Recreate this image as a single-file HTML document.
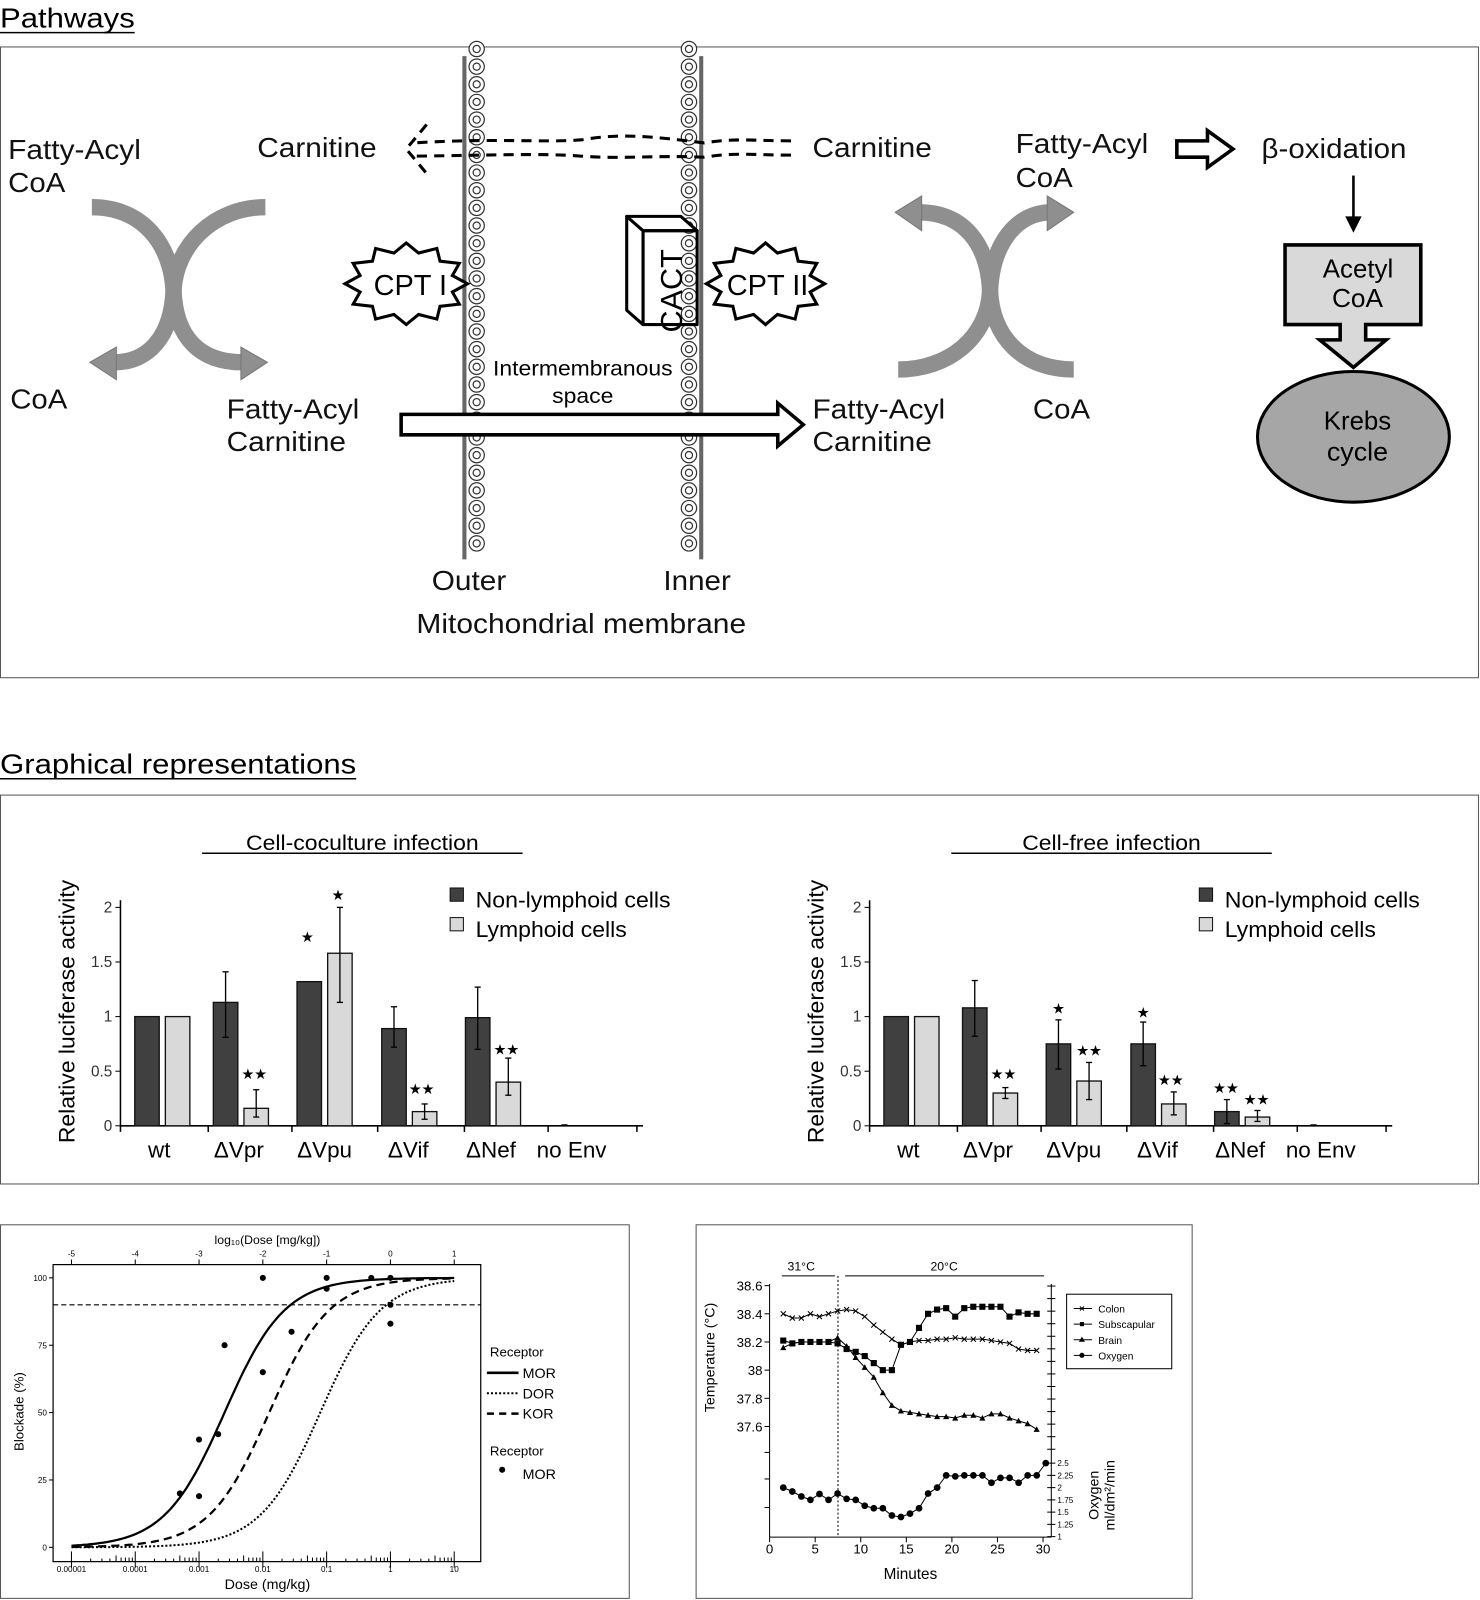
<!DOCTYPE html>
<html><head><meta charset="utf-8"><style>
html,body{margin:0;padding:0;background:#fff}
svg{display:block}
text{font-family:"Liberation Sans",Arial,sans-serif}
</style></head><body>
<svg id="s" width="1480" height="1600" viewBox="0 0 1450 1567.6" xmlns="http://www.w3.org/2000/svg">
<rect width="1450" height="1568" fill="#fff"/>
<text x="0" y="27" font-size="27" textLength="132" lengthAdjust="spacingAndGlyphs">Pathways</text>
<line x1="0" y1="32" x2="132" y2="32" stroke="#000" stroke-width="1.5"/>
<rect x="0.5" y="46" width="1448" height="618" fill="none" stroke="#555" stroke-width="1"/>
<g id="mem"></g>
<line x1="455" y1="55" x2="455" y2="548" stroke="#666" stroke-width="4"/>
<line x1="687" y1="55" x2="687" y2="548" stroke="#666" stroke-width="4"/>
<g font-size="27" fill="#111" lengthAdjust="spacingAndGlyphs">
<text x="8" y="156" textLength="130" lengthAdjust="spacingAndGlyphs">Fatty-Acyl</text><text x="8" y="188" textLength="56" lengthAdjust="spacingAndGlyphs">CoA</text>
<text x="252" y="154" textLength="117" lengthAdjust="spacingAndGlyphs">Carnitine</text>
<text x="10" y="400" textLength="56" lengthAdjust="spacingAndGlyphs">CoA</text>
<text x="222" y="410" textLength="130" lengthAdjust="spacingAndGlyphs">Fatty-Acyl</text><text x="222" y="442" textLength="117" lengthAdjust="spacingAndGlyphs">Carnitine</text>
<text x="796" y="154" textLength="117" lengthAdjust="spacingAndGlyphs">Carnitine</text>
<text x="995" y="150" textLength="130" lengthAdjust="spacingAndGlyphs">Fatty-Acyl</text><text x="995" y="183" textLength="56" lengthAdjust="spacingAndGlyphs">CoA</text>
<text x="1236" y="155" textLength="142" lengthAdjust="spacingAndGlyphs">β-oxidation</text>
<text x="796" y="410" textLength="130" lengthAdjust="spacingAndGlyphs">Fatty-Acyl</text><text x="796" y="442" textLength="117" lengthAdjust="spacingAndGlyphs">Carnitine</text>
<text x="1012" y="410" textLength="56" lengthAdjust="spacingAndGlyphs">CoA</text>
<text x="423" y="578" textLength="73" lengthAdjust="spacingAndGlyphs">Outer</text><text x="650" y="578" textLength="66" lengthAdjust="spacingAndGlyphs">Inner</text>
<text x="408" y="620" textLength="323" lengthAdjust="spacingAndGlyphs">Mitochondrial membrane</text>
</g>
<g font-size="21"><text x="483" y="368" textLength="176" lengthAdjust="spacingAndGlyphs">Intermembranous</text><text x="541" y="395" textLength="60" lengthAdjust="spacingAndGlyphs">space</text></g>
<g fill="none" stroke="#8f8f8f" stroke-width="16">
<path d="M90,203 C140,203 168,240 170,285 C172,330 195,355 238,355"/>
<path d="M260,203 C210,203 172,240 170,285 C168,330 145,355 112,355"/>
<path d="M880,362 C930,362 968,330 970,285 C972,240 995,208 1030,208"/>
<path d="M1052,362 C1002,362 972,330 970,285 C968,240 945,208 900,208"/>
</g>
<g fill="#8f8f8f" stroke="#777" stroke-width="1">
<polygon points="236,340 262,355 236,372"/>
<polygon points="114,340 88,355 114,372"/>
<polygon points="1026,192 1052,208 1026,226"/>
<polygon points="903,192 877,208 903,226"/>
</g>
<g id="stars" fill="#fff" stroke="#000" stroke-width="3"></g>
<g font-size="28"><text x="366" y="289" textLength="72" lengthAdjust="spacingAndGlyphs">CPT I</text><text x="712" y="289" textLength="80" lengthAdjust="spacingAndGlyphs">CPT II</text></g>
<g fill="#fff" stroke="#000" stroke-width="3" stroke-linejoin="round">
<polygon points="614,212 630,226 630,318 614,304"/>
<polygon points="614,212 667,212 683,226 630,226"/>
<rect x="630" y="226" width="53" height="92" fill="none"/>
</g>
<text x="0" y="0" font-size="30" transform="translate(668,285) rotate(-90)" text-anchor="middle">CACT</text>
<g fill="none" stroke="#000" stroke-width="3" stroke-dasharray="10,7">
<path d="M775,138 C740,138 720,135 690,140 C640,134 610,130 570,137 C530,140 490,135 405,140"/>
<path d="M775,152 C740,152 720,149 690,154 C640,152 610,156 570,153 C530,150 490,152 405,153"/>
<path d="M418,122 L398,146 L418,170"/>
</g>
<polygon points="393,406 762,406 762,395 787,416 762,437 762,426 393,426" fill="#fff" stroke="#000" stroke-width="3.5"/>
<polygon points="1153,138 1183,138 1183,128 1208,146 1183,164 1183,154 1153,154" fill="#fff" stroke="#000" stroke-width="3.5"/>
<line x1="1326" y1="172" x2="1326" y2="215" stroke="#000" stroke-width="2.5"/>
<polygon points="1318,212 1334,212 1326,228" fill="#000"/>
<polygon points="1259,240 1392,240 1392,318 1338,318 1338,333 1358,333 1326,360 1293,333 1313,333 1313,318 1259,318" fill="#d9d9d9" stroke="#000" stroke-width="3.5"/>
<g font-size="25"><text x="1296" y="272" textLength="69" lengthAdjust="spacingAndGlyphs">Acetyl</text><text x="1305" y="301" textLength="50" lengthAdjust="spacingAndGlyphs">CoA</text></g>
<ellipse cx="1326" cy="428" rx="94" ry="64" fill="#a6a6a6" stroke="#000" stroke-width="3"/>
<g font-size="25"><text x="1297" y="421" textLength="66" lengthAdjust="spacingAndGlyphs">Krebs</text><text x="1300" y="451" textLength="60" lengthAdjust="spacingAndGlyphs">cycle</text></g>

<text x="0" y="758" font-size="27" textLength="349" lengthAdjust="spacingAndGlyphs">Graphical representations</text>
<line x1="0" y1="763" x2="349" y2="763" stroke="#000" stroke-width="1.5"/>
<rect x="0.5" y="779" width="1448" height="381" fill="none" stroke="#555" stroke-width="1"/>
<g id="bars"></g>

<rect x="0.5" y="1200" width="616" height="366" fill="none" stroke="#555" stroke-width="1"/>
<g id="dose"></g>
<rect x="682" y="1200" width="486" height="366" fill="none" stroke="#555" stroke-width="1"/>
<g id="temp"></g>
</svg>
<script>
var NS="http://www.w3.org/2000/svg";
function el(p,t,a,txt){var e=document.createElementNS(NS,t);for(var k in a)e.setAttribute(k,a[k]);if(txt!=null)e.textContent=txt;document.getElementById(p).appendChild(e);return e;}
for(var y=48;y<=545;y+=17.3){[467,675].forEach(function(x){el("mem","circle",{cx:x,cy:y,r:7.5,fill:"#fff",stroke:"#333","stroke-width":1.2});el("mem","circle",{cx:x,cy:y,r:3.5,fill:"none",stroke:"#333","stroke-width":1.2});});}
function star(cx,cy,rx,ry,n){var p=[];for(var i=0;i<2*n;i++){var a=Math.PI*i/n;var f=i%2?0.78:1;p.push((cx+rx*f*Math.cos(a)).toFixed(1)+","+(cy+ry*f*Math.sin(a)).toFixed(1));}el("stars","polygon",{points:p.join(" ")});}
star(398,278,60,40,12);star(750,278,58,40,12);
function chart(ox,title,data,stars,tw){
 var y0=1103,u=107,ax=118+ox;
 el("bars","text",{x:355+ox,y:833,"font-size":21,"text-anchor":"middle",textLength:tw,lengthAdjust:"spacingAndGlyphs"},title);
 el("bars","line",{x1:198+ox,y1:836,x2:512+ox,y2:836,stroke:"#000","stroke-width":1.5});
 el("bars","line",{x1:ax,y1:882,x2:ax,y2:y0+6,stroke:"#000","stroke-width":1.5});
 el("bars","line",{x1:ax,y1:y0,x2:630+ox,y2:y0,stroke:"#000","stroke-width":1.5});
 [0,0.5,1,1.5,2].forEach(function(v){var yy=y0-v*u;el("bars","line",{x1:ax-5,y1:yy,x2:ax,y2:yy,stroke:"#000"});el("bars","text",{x:ax-8,y:yy+5,"font-size":15,"text-anchor":"end",fill:"#333"},String(v));});
 [204,286,370,455,537,624].forEach(function(x){el("bars","line",{x1:x+ox,y1:y0,x2:x+ox,y2:y0+6,stroke:"#000","stroke-width":1.5});});
 var labs=["wt","ΔVpr","ΔVpu","ΔVif","ΔNef","no Env"],lx=[156,234,318,400,481,560];
 labs.forEach(function(l,i){el("bars","text",{x:lx[i]+ox,y:1134,"font-size":22,"text-anchor":"middle"},l);});
 el("bars","text",{x:0,y:0,"font-size":22,"text-anchor":"middle",textLength:258,lengthAdjust:"spacingAndGlyphs",transform:"translate("+(73+ox)+",991) rotate(-90)"},"Relative luciferase activity");
 var gx=[132,209,291,374,456,540];
 data.forEach(function(d,i){[0,1].forEach(function(j){var v=d[j*3];if(i==5){return;}var x=gx[i]+ox+j*30;
  el("bars","rect",{x:x,y:y0-v*u,width:24,height:v*u,fill:j?"#d9d9d9":"#404040",stroke:"#111","stroke-width":1.3});
  if(d[j*3+1]!=null){var cx=x+12;el("bars","line",{x1:cx,y1:y0-d[j*3+1]*u,x2:cx,y2:y0-d[j*3+2]*u,stroke:"#000","stroke-width":1.3});
   [d[j*3+1],d[j*3+2]].forEach(function(q){el("bars","line",{x1:cx-3,y1:y0-q*u,x2:cx+3,y2:y0-q*u,stroke:"#000","stroke-width":1.3});});}
 });});
 el("bars","line",{x1:gx[5]+ox+10,y1:y0-1,x2:gx[5]+ox+16,y2:y0-1,stroke:"#000"});
 stars.forEach(function(s){el("bars","text",{x:s[0]+ox,y:s[1],"font-size":14,"text-anchor":"middle"},s[2]);});
 el("bars","rect",{x:441+ox,y:870,width:13,height:13,fill:"#404040",stroke:"#111"});
 el("bars","rect",{x:441+ox,y:899,width:13,height:13,fill:"#d9d9d9",stroke:"#111"});
 el("bars","text",{x:466+ox,y:889,"font-size":22,textLength:191,lengthAdjust:"spacingAndGlyphs"},"Non-lymphoid cells");
 el("bars","text",{x:466+ox,y:918,"font-size":22,textLength:148,lengthAdjust:"spacingAndGlyphs"},"Lymphoid cells");
}
chart(0,"Cell-coculture infection",[[1,null,null,1,null,null],[1.13,0.81,1.41,0.16,0.08,0.33],[1.32,null,null,1.58,1.13,2.0],[0.89,0.72,1.09,0.13,0.06,0.2],[0.99,0.7,1.27,0.4,0.28,0.62],[0,null,null,0,null,null]],
 [[301,923,"★"],[331,882,"★"],[249,1057,"★★"],[413,1072,"★★"],[496,1033,"★★"]],228);
chart(734,"Cell-free infection",[[1,null,null,1,null,null],[1.08,0.82,1.33,0.3,0.25,0.35],[0.75,0.52,0.97,0.41,0.24,0.58],[0.75,0.55,0.95,0.2,0.1,0.31],[0.13,0.02,0.24,0.08,0.04,0.14],[0,null,null,0,null,null]],
 [[249,1057,"★★"],[303,993,"★"],[333,1034,"★★"],[386,997,"★"],[413,1063,"★★"],[467,1071,"★★"],[497,1082,"★★"]],175);
(function(){var g="dose",X=function(l){return 70+(l+5)*62.5},Y=function(v){return 1516-v*2.64};
 el(g,"rect",{x:52,y:1239,width:419,height:291,fill:"none",stroke:"#000","stroke-width":1.2});
 el(g,"text",{x:262,y:1219,"font-size":12,"text-anchor":"middle"},"log₁₀(Dose [mg/kg])");
 for(var l=-5;l<=1;l++){el(g,"line",{x1:X(l),y1:1234,x2:X(l),y2:1239,stroke:"#000"});el(g,"text",{x:X(l),y:1231,"font-size":8,"text-anchor":"middle"},String(l));
  el(g,"line",{x1:X(l),y1:1520,x2:X(l),y2:1536,stroke:"#000"});
  el(g,"text",{x:X(l),y:1540,"font-size":8,"text-anchor":"middle"},["0.00001","0.0001","0.001","0.01","0.1","1","10"][l+5]);
  if(l<1)for(var k=2;k<10;k++){var xx=X(l+Math.log10(k));el(g,"line",{x1:xx,y1:1530-(k==5?6:(k>5?4:3)),x2:xx,y2:1530,stroke:"#000"});}}
 el(g,"text",{x:262,y:1557,"font-size":14,"text-anchor":"middle"},"Dose (mg/kg)");
 [0,25,50,75,100].forEach(function(v){el(g,"line",{x1:48,y1:Y(v),x2:52,y2:Y(v),stroke:"#000"});el(g,"text",{x:46,y:Y(v)+3,"font-size":8,"text-anchor":"end"},String(v));});
 el(g,"text",{x:0,y:0,"font-size":13,"text-anchor":"middle",transform:"translate(23,1383) rotate(-90)"},"Blockade (%)");
 el(g,"line",{x1:52,y1:Y(90),x2:471,y2:Y(90),stroke:"#000","stroke-dasharray":"5,3"});
 function curve(ec,da,w){var p="";for(var l=-5;l<=1.001;l+=0.05){var v=100/(1+Math.pow(10,0.92*(ec-l)));p+=(p?"L":"M")+X(l).toFixed(1)+","+Y(v).toFixed(1);}el(g,"path",{d:p,fill:"none",stroke:"#000","stroke-width":w,"stroke-dasharray":da});}
 curve(-2.6,"none",2.2);curve(-1.9,"8,5",2.2);curve(-1.1,"2,2",2);
 [[-3.3,20],[-3,19],[-3,40],[-2.7,42],[-2.6,75],[-2,65],[-2,100],[-1.55,80],[-1,100],[-1,96],[-0.3,100],[0,100],[0,90],[0,83]].forEach(function(p){el(g,"circle",{cx:X(p[0]),cy:Y(p[1]),r:3,fill:"#000"});});
 el(g,"text",{x:480,y:1329,"font-size":13},"Receptor");
 el(g,"line",{x1:477,y1:1345,x2:508,y2:1345,stroke:"#000","stroke-width":2.5});
 el(g,"line",{x1:477,y1:1365,x2:508,y2:1365,stroke:"#000","stroke-width":2,"stroke-dasharray":"2,2"});
 el(g,"line",{x1:477,y1:1385,x2:508,y2:1385,stroke:"#000","stroke-width":2.5,"stroke-dasharray":"7,5"});
 el(g,"text",{x:512,y:1350,"font-size":14},"MOR");el(g,"text",{x:512,y:1370,"font-size":14},"DOR");el(g,"text",{x:512,y:1390,"font-size":14},"KOR");
 el(g,"text",{x:480,y:1426,"font-size":13},"Receptor");
 el(g,"circle",{cx:492,cy:1440,r:3,fill:"#000"});el(g,"text",{x:512,y:1449,"font-size":14},"MOR");
})();
(function(){var g="temp",X=function(m){return 754+m*8.93},T=function(v){return 1259.6+(38.6-v)/0.2*27.6},O=function(v){return 1505.5-(v-1)/0.25*12};
 el(g,"line",{x1:754,y1:1258,x2:754,y2:1506,stroke:"#000"});
 el(g,"line",{x1:754,y1:1506,x2:1030,y2:1506,stroke:"#000"});
 el(g,"line",{x1:1030,y1:1258,x2:1030,y2:1506,stroke:"#000"});
 [38.6,38.4,38.2,38,37.8,37.6].forEach(function(v){el(g,"line",{x1:749,y1:T(v),x2:754,y2:T(v),stroke:"#000"});el(g,"text",{x:747,y:T(v)+5,"font-size":13,"text-anchor":"end"},String(v));});
 [1423,1449,1477].forEach(function(y){el(g,"line",{x1:749,y1:y,x2:754,y2:y,stroke:"#000"});});
 for(var y=1260;y<1430;y+=12.3)el(g,"line",{x1:1026,y1:y,x2:1034,y2:y,stroke:"#000"});
 ["2.5","2.25","2","1.75","1.5","1.25","1"].forEach(function(s,i){var y=O(2.5-i*0.25);el(g,"line",{x1:1026,y1:y,x2:1034,y2:y,stroke:"#000"});el(g,"text",{x:1036,y:y+3,"font-size":8},s);});
 [0,5,10,15,20,25,30].forEach(function(m){el(g,"line",{x1:X(m),y1:1506,x2:X(m),y2:1511,stroke:"#000"});el(g,"text",{x:X(m),y:1522,"font-size":13,"text-anchor":"middle"},String(m));});
 el(g,"text",{x:892,y:1547,"font-size":15,"text-anchor":"middle"},"Minutes");
 el(g,"text",{x:0,y:0,"font-size":14,"text-anchor":"middle",transform:"translate(700,1330) rotate(-90)"},"Temperature (°C)");
 el(g,"text",{x:0,y:0,"font-size":14,"text-anchor":"middle",transform:"translate(1076,1465) rotate(-90)"},"Oxygen");
 el(g,"text",{x:0,y:0,"font-size":14,"text-anchor":"middle",transform:"translate(1092,1465) rotate(-90)"},"ml/dm²/min");
 el(g,"line",{x1:821,y1:1250,x2:821,y2:1506,stroke:"#000","stroke-dasharray":"2,2"});
 el(g,"line",{x1:766,y1:1250,x2:818,y2:1250,stroke:"#000"});el(g,"line",{x1:828,y1:1250,x2:1023,y2:1250,stroke:"#000"});
 el(g,"text",{x:785,y:1245,"font-size":12,"text-anchor":"middle"},"31°C");el(g,"text",{x:925,y:1245,"font-size":12,"text-anchor":"middle"},"20°C");
 function series(vals,f,mk,x0,x1){var n=vals.length,p="";var pts=vals.map(function(v,i){var x=X(x0+(x1-x0)*i/(n-1)),y=f(v);p+=(i?"L":"M")+x.toFixed(1)+","+y.toFixed(1);return[x,y];});
  el(g,"path",{d:p,fill:"none",stroke:"#000","stroke-width":1});
  pts.forEach(function(q){var x=q[0],y=q[1];
   if(mk=="x"){el(g,"path",{d:"M"+(x-2.5)+","+(y-2.5)+"l5,5M"+(x-2.5)+","+(y+2.5)+"l5,-5",stroke:"#000","stroke-width":1});}
   else if(mk=="s")el(g,"rect",{x:x-3,y:y-3,width:6,height:6,fill:"#000"});
   else if(mk=="t")el(g,"polygon",{points:(x-3)+","+(y+2.5)+" "+(x+3)+","+(y+2.5)+" "+x+","+(y-3),fill:"#000"});
   else el(g,"circle",{cx:x,cy:y,r:3.3,fill:"#000"});});}
 series([38.4,38.37,38.37,38.4,38.38,38.4,38.42,38.43,38.42,38.38,38.32,38.27,38.22,38.18,38.2,38.21,38.21,38.22,38.22,38.23,38.22,38.22,38.22,38.21,38.2,38.19,38.15,38.14,38.14],T,"x",1.5,29.3);
 series([38.21,38.19,38.2,38.2,38.2,38.2,38.19,38.15,38.13,38.1,38.05,38.0,38.0,38.18,38.2,38.3,38.4,38.43,38.44,38.38,38.44,38.45,38.45,38.45,38.45,38.38,38.41,38.4,38.4],T,"s",1.5,29.3);
 series([38.16,38.19,38.2,38.2,38.2,38.2,38.23,38.17,38.09,38.02,37.95,37.84,37.75,37.71,37.7,37.69,37.68,37.67,37.67,37.66,37.68,37.68,37.66,37.69,37.69,37.66,37.64,37.62,37.58],T,"t",1.5,29.3);
 series([2.0,1.92,1.82,1.75,1.87,1.75,1.88,1.77,1.75,1.63,1.58,1.58,1.43,1.4,1.47,1.58,1.88,2.0,2.25,2.23,2.25,2.25,2.25,2.1,2.2,2.2,2.1,2.25,2.25,2.5],O,"o",1.5,30.3);
 el(g,"rect",{x:1045,y:1268,width:103,height:73,fill:"none",stroke:"#000"});
 [["Colon","x"],["Subscapular","s"],["Brain","t"],["Oxygen","o"]].forEach(function(a,i){var y=1282+i*15.3;el(g,"line",{x1:1052,y1:y,x2:1070,y2:y,stroke:"#000"});
  if(a[1]=="x")el(g,"path",{d:"M1058,"+(y-2)+"l4,4M1058,"+(y+2)+"l4,-4",stroke:"#000"});else if(a[1]=="s")el(g,"rect",{x:1058,y:y-2,width:4,height:4});else if(a[1]=="t")el(g,"polygon",{points:"1057,"+(y+2)+" 1063,"+(y+2)+" 1060,"+(y-3)});else el(g,"circle",{cx:1060,cy:y,r:2.5});
  el(g,"text",{x:1076,y:y+4,"font-size":10},a[0]);});
})();
</script>
</body></html>
